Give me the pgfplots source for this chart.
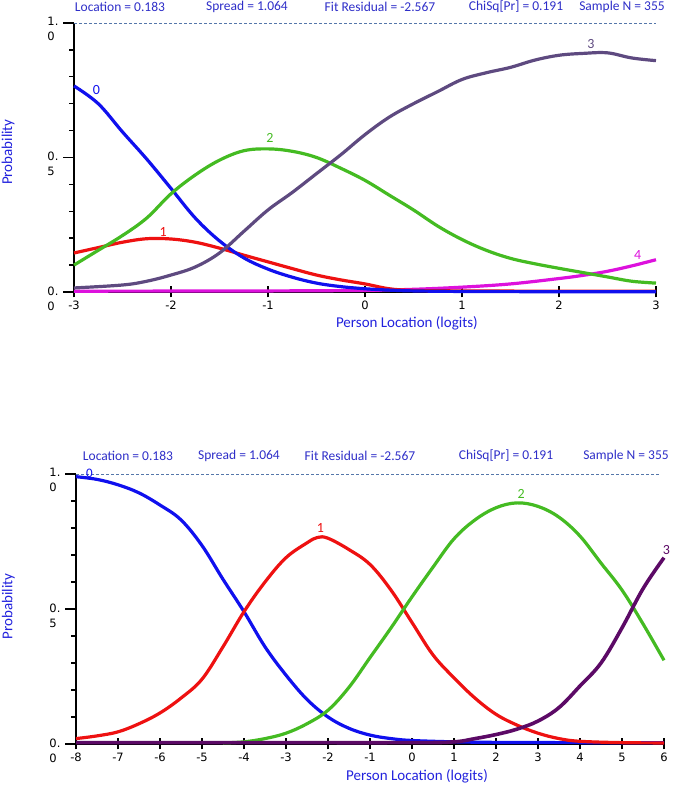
\documentclass[border=0pt]{standalone}
\usepackage{pgfplots}
\pgfplotsset{compat=1.18}
\usepackage{fontspec}
\setmainfont{Carlito}
\newfontfamily\dejavu{DejaVu Sans}
\definecolor{cblue}{HTML}{1010EE}
\definecolor{cred}{HTML}{EE1111}
\definecolor{cgreen}{HTML}{44BB22}
\definecolor{cmag}{HTML}{DD11DD}
\definecolor{cpurA}{HTML}{5E4A80}
\definecolor{cpurB}{HTML}{5C0A66}
\definecolor{statblue}{HTML}{2E2EC8}
\definecolor{labblue}{HTML}{2222DD}
\definecolor{dashcol}{HTML}{5577AA}
\pgfplotsset{
  rasch/.style={
    scale only axis, axis lines*=left,
    axis line style={line width=2pt, black},
    ymin=0, ymax=1,
    ytick={0,0.5,1}, yticklabels={{0.\\0},{0.\\5},{1.\\0}},
    minor y tick num=4,
    tick style={black, line width=1.4pt},
    major tick length=11pt, minor tick length=5pt,
    xtick align=center, ytick align=outside,
    yticklabel style={font=\dejavu\fontsize{11.5}{15}\selectfont, align=left, anchor=north east, yshift=9pt, xshift=-1pt},
    xticklabel style={font=\dejavu\fontsize{11.5}{13}\selectfont},
    ylabel={Probability},
    ylabel style={at={(axis description cs:-0.115,0.5)}, anchor=center, font=\fontsize{15}{17}\selectfont, text=labblue},
    xlabel={Person Location (logits)},
    xlabel style={anchor=center, font=\fontsize{15}{17}\selectfont, text=labblue},
    clip=false,
    every axis plot/.append style={line width=3.2pt, smooth, tension=0.6},
  }
}
\begin{document}
\begin{tikzpicture}[x=1pt,y=1pt]
\useasboundingbox (0,0) rectangle (675,786);
% ---------- top chart ----------
\begin{axis}[rasch, at={(74pt,494pt)}, anchor=south west,
  width=582pt, height=269pt, xmin=-3, xmax=3,
  xtick={-3,-2,-1,0,1,2,3}, xticklabels={-3,-2,-1,0,1,2,3},
  xlabel style={at={(axis description cs:0.572,-0.117)}},
  ylabel style={at={(axis description cs:-0.113,0.52)}}]
\addplot[dashcol, line width=0.8pt, dash pattern=on 3pt off 2pt, sharp plot] coordinates {(-3,1) (3,1)};
\addplot[cmag] coordinates {(-3,0.003) (-1,0.004) (0,0.006) (0.5,0.01) (1,0.018) (1.5,0.03) (2,0.05) (2.25,0.062) (2.5,0.077) (2.75,0.097) (3,0.12)};
\addplot[cred] coordinates {(-3,0.145) (-2.75,0.165) (-2.5,0.185) (-2.25,0.198) (-2,0.197) (-1.75,0.185) (-1.5,0.163) (-1.25,0.137) (-1,0.112) (-0.75,0.087) (-0.5,0.063) (-0.25,0.045) (0,0.03) (0.25,0.012) (0.5,0.006) (1,0.004) (2,0.003) (3,0.003)};
\addplot[cblue] coordinates {(-3,0.766) (-2.75,0.70) (-2.5,0.595) (-2.25,0.494) (-2,0.385) (-1.75,0.275) (-1.5,0.19) (-1.25,0.127) (-1,0.085) (-0.75,0.055) (-0.5,0.033) (-0.25,0.02) (0,0.012) (0.25,0.007) (0.5,0.004) (1,0.002) (2,0.001) (3,0.001)};
\addplot[cgreen] coordinates {(-3,0.10) (-2.75,0.155) (-2.5,0.21) (-2.25,0.275) (-2,0.365) (-1.75,0.435) (-1.5,0.49) (-1.25,0.525) (-1,0.532) (-0.75,0.523) (-0.5,0.50) (-0.25,0.46) (0,0.415) (0.25,0.36) (0.5,0.305) (0.75,0.245) (1,0.195) (1.25,0.155) (1.5,0.125) (1.75,0.105) (2,0.088) (2.25,0.072) (2.5,0.056) (2.75,0.04) (3,0.033)};
\addplot[cpurA] coordinates {(-3,0.015) (-2.5,0.026) (-2.25,0.04) (-2,0.063) (-1.75,0.093) (-1.5,0.145) (-1.25,0.225) (-1,0.305) (-0.75,0.37) (-0.5,0.44) (-0.25,0.51) (0,0.585) (0.25,0.65) (0.5,0.70) (0.75,0.745) (1,0.79) (1.25,0.815) (1.5,0.835) (1.75,0.862) (2,0.88) (2.25,0.887) (2.5,0.889) (2.75,0.87) (3,0.86)};
\node[text=cblue, font=\fontsize{14}{16}\selectfont] at (axis cs:-2.77,0.751) {0};
\node[text=cred, font=\fontsize{14}{16}\selectfont] at (axis cs:-2.08,0.223) {1};
\node[text=cgreen, font=\fontsize{14}{16}\selectfont] at (axis cs:-0.98,0.572) {2};
\node[text=cpurA, font=\fontsize{14}{16}\selectfont] at (axis cs:2.33,0.922) {3};
\node[text=cmag, font=\fontsize{14}{16}\selectfont] at (axis cs:2.81,0.138) {4};
\end{axis}
% ---------- bottom chart ----------
\begin{axis}[rasch, at={(76pt,42pt)}, anchor=south west,
  width=588pt, height=270pt, xmin=-8, xmax=6,
  xtick={-8,-7,-6,-5,-4,-3,-2,-1,0,1,2,3,4,5,6}, xticklabels={-8,-7,-6,-5,-4,-3,-2,-1,0,1,2,3,4,5,6},
  xlabel style={at={(axis description cs:0.58,-0.118)}},
  ylabel style={at={(axis description cs:-0.115,0.51)}}]
\addplot[dashcol, line width=0.8pt, dash pattern=on 3pt off 2pt, sharp plot] coordinates {(-8,1) (5.9,1)};
\addplot[cblue] coordinates {(-8,0.99) (-7.5,0.98) (-7,0.96) (-6.5,0.93) (-6,0.885) (-5.5,0.83) (-5,0.735) (-4.5,0.61) (-4,0.49) (-3.5,0.36) (-3,0.255) (-2.5,0.165) (-2,0.10) (-1.5,0.058) (-1,0.033) (-0.5,0.02) (0,0.013) (1,0.008) (2,0.006) (4,0.005) (6,0.005)};
\addplot[cred] coordinates {(-8,0.02) (-7.5,0.03) (-7,0.045) (-6.5,0.075) (-6,0.115) (-5.5,0.17) (-5,0.24) (-4.5,0.36) (-4,0.49) (-3.5,0.60) (-3,0.69) (-2.5,0.745) (-2.25,0.765) (-2,0.762) (-1.5,0.72) (-1,0.665) (-0.5,0.57) (0,0.45) (0.5,0.33) (1,0.245) (1.5,0.17) (2,0.11) (2.5,0.07) (3,0.04) (3.5,0.02) (4,0.01) (5,0.005) (6,0.004)};
\addplot[cgreen] coordinates {(-4.5,0.004) (-4,0.008) (-3.5,0.02) (-3,0.04) (-2.5,0.075) (-2,0.125) (-1.5,0.21) (-1,0.32) (-0.5,0.43) (0,0.545) (0.5,0.655) (1,0.76) (1.5,0.83) (2,0.875) (2.5,0.893) (3,0.88) (3.5,0.84) (4,0.77) (4.5,0.67) (5,0.57) (5.5,0.445) (6,0.31)};
\addplot[cpurB, line width=3.6pt] coordinates {(-8,0.005) (-4,0.005) (0,0.005) (1,0.008) (1.5,0.02) (2,0.035) (2.5,0.055) (3,0.085) (3.5,0.135) (4,0.215) (4.5,0.30) (5,0.43) (5.5,0.575) (6,0.69)};
\node[text=cblue, font=\fontsize{13}{15}\selectfont, inner sep=1pt] at (axis cs:-7.68,1.003) {0};
\node[text=cred, font=\fontsize{14}{16}\selectfont] at (axis cs:-2.18,0.80) {1};
\node[text=cgreen, font=\fontsize{14}{16}\selectfont] at (axis cs:2.6,0.926) {2};
\node[text=cpurB, font=\fontsize{14}{16}\selectfont] at (axis cs:6.06,0.72) {3};
\end{axis}
% ---------- statistics text ----------
\begin{scope}[every node/.style={text=statblue, font=\fontsize{13.5}{15}\selectfont, inner sep=1pt}]
\node at (120,779) {Location = 0.183};
\node at (247,779) {Spread = 1.064};
\node at (380,779) {Fit Residual = -2.567};
\node at (516,779) {ChiSq[Pr] = 0.191};
\node at (622,779) {Sample N = 355};
\node at (128,330) {Location = 0.183};
\node at (239,330) {Spread = 1.064};
\node at (360,330) {Fit Residual = -2.567};
\node at (506,330) {ChiSq[Pr] = 0.191};
\node at (626,330) {Sample N = 355};
\end{scope}
\end{tikzpicture}
\end{document}
